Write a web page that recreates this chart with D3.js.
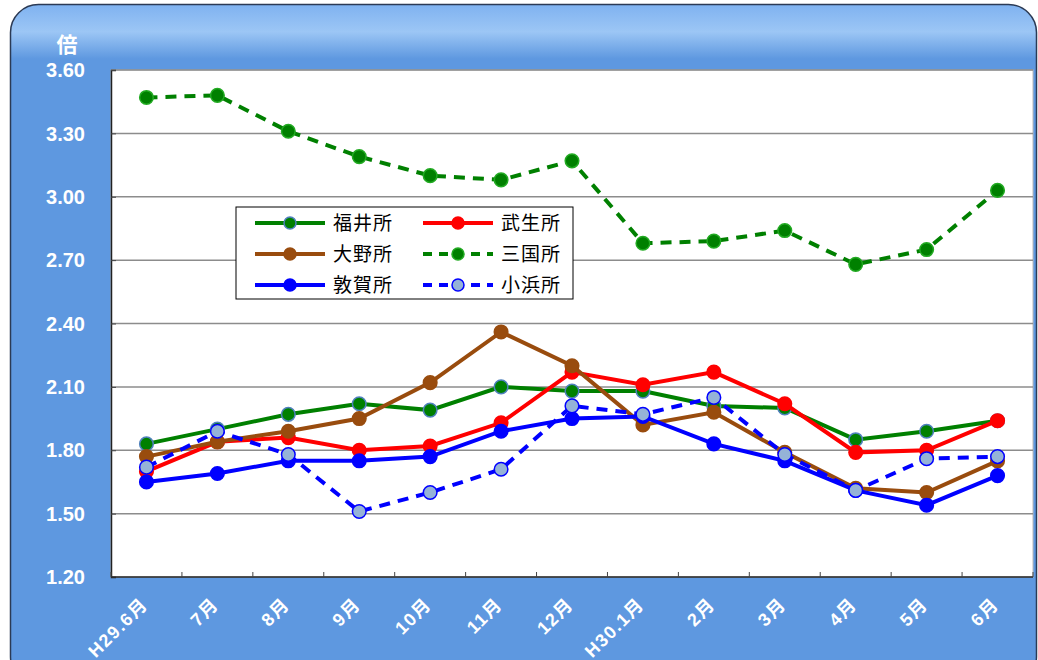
<!DOCTYPE html>
<html>
<head>
<meta charset="utf-8">
<script src="https://cdn.jsdelivr.net/npm/d3@7"></script>
<style>
  body { margin: 0; background: #fff; }
  svg { display: block; font-family: "Liberation Sans", "Noto Sans CJK JP", sans-serif; }
</style>
</head>
<body>
<svg id="chart"></svg>
<script>
// months along the bottom
var months = ["H29.6月","7月","8月","9月","10月","11月","12月","H30.1月","2月","3月","4月","5月","6月"];
var yTicks = [1.20, 1.50, 1.80, 2.10, 2.40, 2.70, 3.00, 3.30, 3.60];

var fukui   = [1.83,1.90,1.97,2.02,1.99,2.10,2.08,2.08,2.01,2.00,1.85,1.89,1.94];
var takefu  = [1.70,1.84,1.86,1.80,1.82,1.93,2.17,2.11,2.17,2.02,1.79,1.80,1.94];
var ono     = [1.77,1.84,1.89,1.95,2.12,2.36,2.20,1.92,1.98,1.79,1.62,1.60,1.75];
var mikuni  = [3.47,3.48,3.31,3.19,3.10,3.08,3.17,2.78,2.79,2.84,2.68,2.75,3.03];
var tsuruga = [1.65,1.69,1.75,1.75,1.77,1.89,1.95,1.96,1.83,1.75,1.61,1.54,1.68];
var obama   = [1.72,1.89,1.78,1.51,1.60,1.71,2.01,1.97,2.05,1.78,1.61,1.76,1.77];

var seriesNames = ["福井所","武生所","大野所","三国所","敦賀所","小浜所"];

// style per series (kept apart from the values)
var styles = {
  "福井所": {color: "#008000", fill: "#008000", stroke: "#4f81bd", dash: null},
  "武生所": {color: "#ff0000", fill: "#ff0000", stroke: "#ff0000", dash: null},
  "大野所": {color: "#994c0e", fill: "#994c0e", stroke: "#994c0e", dash: null},
  "三国所": {color: "#008000", fill: "#008000", stroke: "#22aa22", dash: "11,8"},
  "敦賀所": {color: "#0000ff", fill: "#0000ff", stroke: "#0000ff", dash: null},
  "小浜所": {color: "#0000ff", fill: "#95b3d7", stroke: "#0000ff", dash: "11,8"}
};
var values = [fukui, takefu, ono, mikuni, tsuruga, obama];

var W = 1038, H = 660;
var margin = {top: 70, right: 5, bottom: 83, left: 111};
var width = W - margin.left - margin.right;
var height = H - margin.top - margin.bottom;

var svg = d3.select("#chart").attr("width", W).attr("height", H);

// frame background
var defs = svg.append("defs");
var grad = defs.append("linearGradient").attr("id", "frameGrad")
  .attr("x1", 0).attr("y1", 0).attr("x2", 0).attr("y2", 1);
grad.append("stop").attr("offset", "0%").attr("stop-color", "#7fb2f0");
grad.append("stop").attr("offset", "4%").attr("stop-color", "#9cc6f5");
grad.append("stop").attr("offset", "8%").attr("stop-color", "#5e98e0");
grad.append("stop").attr("offset", "100%").attr("stop-color", "#5e98e0");

svg.append("rect")
  .attr("x", 10.5).attr("y", 4.5)
  .attr("width", 1026).attr("height", 680)
  .attr("rx", 28).attr("ry", 28)
  .attr("fill", "url(#frameGrad)")
  .attr("stroke", "#2b3a55").attr("stroke-width", 1.5);

var chart = svg.append("g").attr("transform", `translate(${margin.left},${margin.top})`);

chart.append("rect")
  .attr("width", width).attr("height", height)
  .attr("fill", "#fff")
  .attr("stroke", "#bbb").attr("stroke-width", 1);

var x = d3.scaleBand().domain(months).range([0, width]).padding(0);
var y = d3.scaleLinear().domain([1.2, 3.6]).range([height, 0]);

// gridlines
chart.append("g").selectAll("line")
  .data(yTicks.slice(1))
  .join("line")
  .attr("x1", 0).attr("x2", width)
  .attr("y1", d => y(d)).attr("y2", d => y(d))
  .attr("stroke", "#8c8c8c").attr("stroke-width", 1.5);

// y axis (ticks inside)
var yAxis = chart.append("g")
  .call(d3.axisRight(y).tickValues(yTicks).tickSize(5).tickFormat(""));
yAxis.select(".domain").attr("stroke", "#222").attr("stroke-width", 1.5);
yAxis.selectAll(".tick line").attr("stroke", "#444");

// y labels
chart.append("g").selectAll("text")
  .data(yTicks)
  .join("text")
  .attr("x", -26).attr("y", d => y(d))
  .attr("dy", "0.36em")
  .attr("text-anchor", "end")
  .attr("fill", "#fff")
  .attr("font-size", 20)
  .attr("font-weight", "bold")
  .text(d => d.toFixed(2));

chart.append("text")
  .attr("x", -44).attr("y", -18)
  .attr("text-anchor", "middle")
  .attr("fill", "#fff")
  .attr("font-size", 21)
  .attr("font-weight", "bold")
  .attr("font-family", "Noto Sans CJK JP")
  .text("倍");

// x axis: ticks between categories, pointing up
var xTickPos = d3.range(months.length + 1).map(i => i * x.bandwidth());
var xAxisG = chart.append("g").attr("transform", `translate(0,${height})`);
xAxisG.append("line").attr("x1", 0).attr("x2", width)
  .attr("stroke", "#222").attr("stroke-width", 1.5);
xAxisG.selectAll(".xt").data(xTickPos).join("line")
  .attr("class", "xt")
  .attr("x1", d => d).attr("x2", d => d)
  .attr("y1", 0).attr("y2", -5)
  .attr("stroke", "#444");

xAxisG.selectAll(".xl").data(months).join("text")
  .attr("class", "xl")
  .attr("transform", d => `translate(${x(d) + x.bandwidth() / 2 - 2},${24}) rotate(-45)`)
  .attr("text-anchor", "end")
  .attr("dy", "0.35em")
  .attr("fill", "#fff")
  .attr("font-size", 18)
  .attr("font-weight", "bold")
  .attr("letter-spacing", 1.5)
  .text(d => d);

// series
var line = d3.line()
  .x((d, i) => x(months[i]) + x.bandwidth() / 2)
  .y(d => y(d));

seriesNames.forEach((name, k) => {
  var st = styles[name];
  var g = chart.append("g");
  g.append("path")
    .datum(values[k])
    .attr("d", line)
    .attr("fill", "none")
    .attr("stroke", st.color)
    .attr("stroke-width", 4)
    .attr("stroke-dasharray", st.dash);
  g.selectAll("circle").data(values[k]).join("circle")
    .attr("cx", (d, i) => x(months[i]) + x.bandwidth() / 2)
    .attr("cy", d => y(d))
    .attr("r", 6.8)
    .attr("fill", st.fill)
    .attr("stroke", st.stroke)
    .attr("stroke-width", 1.5);
});

// legend
var legend = svg.append("g").attr("transform", "translate(236,207)");
legend.append("rect")
  .attr("width", 337).attr("height", 92)
  .attr("fill", "#fff").attr("stroke", "#000").attr("stroke-width", 1);

seriesNames.forEach((name, k) => {
  var st = styles[name];
  var col = k % 2, row = Math.floor(k / 2);
  var lx = 19 + col * 168, ly = 16 + row * 31;
  var item = legend.append("g").attr("transform", `translate(${lx},${ly})`);
  item.append("line")
    .attr("x1", 0).attr("x2", 70)
    .attr("stroke", st.color).attr("stroke-width", 4)
    .attr("stroke-dasharray", st.dash ? "9,7" : null);
  item.append("circle")
    .attr("cx", 35).attr("r", 6)
    .attr("fill", st.fill).attr("stroke", st.stroke).attr("stroke-width", 1.5);
  item.append("text")
    .attr("x", 78).attr("dy", "0.36em")
    .attr("font-size", 19)
    .attr("font-family", "Noto Sans CJK JP")
    .attr("letter-spacing", 1)
    .attr("fill", "#000")
    .text(name);
});
</script>
</body>
</html>
